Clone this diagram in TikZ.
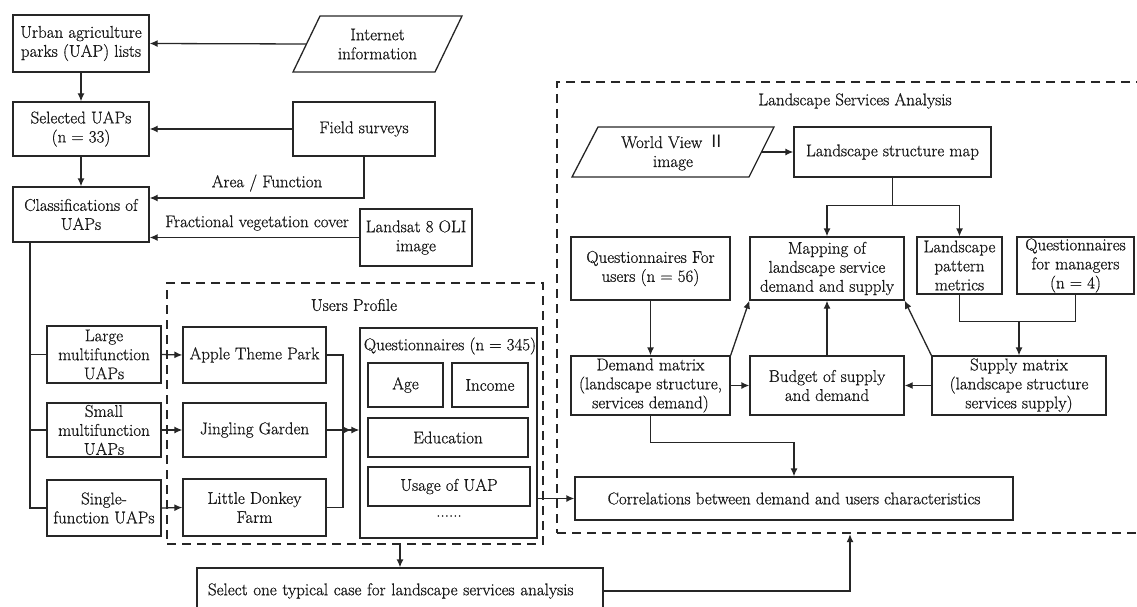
\documentclass[tikz,border=0pt]{standalone}
\usepackage{fontspec}
\setmainfont{Latin Modern Roman}[FakeBold=0.7]
\newfontfamily\cjk{Noto Sans CJK SC}
\usetikzlibrary{arrows.meta}
\begin{document}
\begin{tikzpicture}[x=1pt,y=-1pt,
  font=\fontsize{17}{19}\selectfont,
  box/.style={draw=black!85, line width=1.3pt, inner sep=0pt, align=center, text=black!90},
  sz/.style 2 args={minimum width=#1pt, minimum height=#2pt},
  ln/.style={draw=black!85, line width=1.3pt},
  arr/.style={ln, -{Latex[length=8pt,width=7pt]}},
  darr/.style={ln, -{Latex[length=8pt,width=7pt]Latex[length=8pt,width=7pt]}},
  dbox/.style={draw=black!85, line width=2.3pt, dash pattern=on 9pt off 6pt, inner sep=0pt},
  lbl/.style={inner sep=0pt, align=center, text=black!90}]
\useasboundingbox (0,0) rectangle (1137,607);

% dashed groups
\node[dbox, sz={376}{261}] (up) at (355,413.5) {};
\node[dbox, sz={586}{451}] (lsa) at (850,307.5) {};
\node[lbl] (uptitle) at (354,305) {Users Profile};
\node[lbl] (lsatitle) at (855,101) {Landscape Services Analysis};

% left column
\node[box, sz={136}{57}] (uap) at (81,43.5) {Urban agriculture\\parks (UAP) lists};
\node[box, sz={136}{54}] (sel) at (81,129) {Selected UAPs\\(n = 33)};
\node[box, sz={136}{55}] (cls) at (81,214.5) {Classifications of\\UAPs};

\draw[ln] (293,72) -- (320,16) -- (462,16) -- (435,72) -- cycle;
\node[lbl] (inet) at (377.5,44) {Internet\\information};
\coordinate (inetL) at (306.5,44);
\node[box, sz={142}{54}] (field) at (364,129) {Field surveys};
\node[box, sz={112}{57}] (landsat) at (416,237.5) {Landsat 8 OLI\\image};
\node[lbl] (af) at (267,183) {Area / Function};
\node[lbl] (fvc) at (257,223) {Fractional vegetation cover};

\draw[arr] (inetL) -- (uap.east);
\draw[arr] (field.west) -- (sel.east);
\draw[arr] (field.south) |- (cls.east |- 0,198);
\draw[arr] (landsat.west) -- (cls.east |- landsat.west);
\draw[arr] (uap.south) -- (sel.north);
\draw[arr] (sel.south) -- (cls.north);

% classes
\node[box, sz={114}{57}] (large) at (104,354.5) {Large\\multifunction\\UAPs};
\node[box, sz={114}{54}] (small) at (104,430) {Small\\multifunction\\UAPs};
\node[box, sz={114}{56}] (single) at (104,508) {Single-\\function UAPs};
\draw[ln] (cls.south -| 30,0) -- (30,508) -- (single.west);
\draw[ln] (large.west -| 30,0) -- (large.west);
\draw[ln] (small.west -| 30,0) -- (small.west);

% parks
\node[box, sz={143}{56}] (apple) at (254.5,355) {Apple Theme Park};
\node[box, sz={143}{54}] (jing) at (254.5,430) {Jingling Garden};
\node[box, sz={143}{57}] (donkey) at (254.5,507.5) {Little Donkey\\Farm};
\draw[arr] (large.east) -- (apple.west);
\draw[arr] (small.east) -- (jing.west);
\draw[arr] (single.east) -- (donkey.west);

% questionnaires
\node[box, sz={177}{210}] (quest) at (448.5,433) {};
\node[lbl] (qt) at (450,346) {Questionnaires (n = 345)};
\node[box, sz={75}{44}] (age) at (405.5,385) {Age};
\node[box, sz={76}{44}] (income) at (490,385) {Income};
\node[box, sz={160}{39}] (edu) at (448,437.5) {Education};
\node[box, sz={162}{39}] (usage) at (449,486.5) {Usage of UAP};
\node[lbl] (dots) at (449,516) {......};

\draw[ln] (apple.east) -| (343,430);
\draw[ln] (donkey.east) -| (343,430);
\draw[darr] (jing.east) -- (quest.west |- jing.east);

% select
\node[box, sz={406}{46}, text width=384pt, align=left] (select) at (400,591) {Select one typical case for landscape services analysis};
\draw[arr] (up.south -| select.north) -- (select.north);
\draw[arr] (select.east) -| (lsa.south);

% landscape services analysis
\draw[ln] (572,177) -- (598,127) -- (774,127) -- (749,177) -- cycle;
\node[lbl] (wv) at (673,153) {World View\,\,{\cjk Ⅱ}\\image};
\coordinate (wvR) at (761.5,152);
\node[box, sz={197}{50}] (lsm) at (892.5,152) {Landscape structure map};
\node[box, sz={154}{63}] (map) at (827,268.5) {Mapping of\\landscape service\\demand and supply};
\node[box, sz={85}{57}] (lpm) at (959.5,265.5) {Landscape\\pattern\\metrics};
\node[box, sz={117}{57}] (mgr) at (1075.5,265.5) {Questionnaires\\for managers\\(n = 4)};
\node[box, sz={159}{63}] (qu) at (650.5,268.5) {Questionnaires For\\users (n = 56)};
\node[box, sz={159}{59}] (dem) at (650.5,385.5) {Demand matrix\\(landscape structure,\\services demand)};
\node[box, sz={154}{59}] (bud) at (827,385.5) {Budget of supply\\and demand};
\node[box, sz={174}{59}] (sup) at (1019,385.5) {Supply matrix\\(landscape structure\\services supply)};
\node[box, sz={438}{43}] (corr) at (794,498.5) {Correlations between demand and users characteristics};

\draw[arr] (wvR) -- (lsm.west);
\draw[arr] (lsm.south) -- ++(0,28) -| (map.north);
\draw[arr] (lsm.south) -- ++(0,28) -| (lpm.north);
\draw[arr] (qu.south) -- (dem.north);
\draw[arr] (dem.north east) -- (map.south west);
\draw[arr] (bud.north) -- (map.south);
\draw[arr] (sup.north west) -- (map.south east);
\draw[arr] (dem.east) -- (bud.west);
\draw[arr] (sup.west) -- (bud.east);
\draw[ln] (lpm.south) -- ++(0,27) -| (mgr.south);
\draw[arr] (sup.north |- 0,321) -- (sup.north);
\draw[arr] (dem.south) -- ++(0,27) -| (corr.north);
\draw[arr] (quest.east |- corr.west) -- (corr.west);
\end{tikzpicture}
\end{document}
